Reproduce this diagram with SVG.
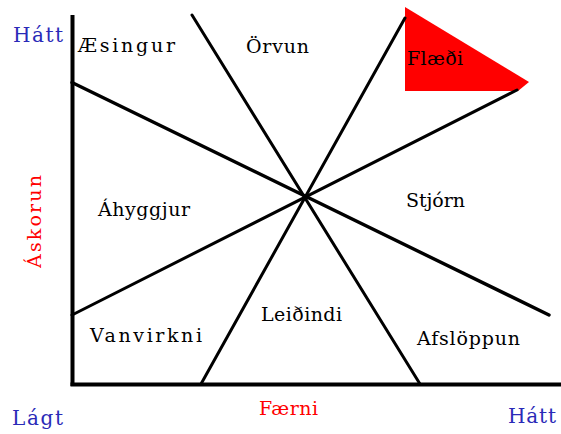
<svg xmlns="http://www.w3.org/2000/svg" width="561" height="434" viewBox="0 0 561 434">
<style>
.lbl{font-family:"DejaVu Serif","Liberation Serif",serif;font-size:19px;fill:#000}
.ax{font-family:"DejaVu Serif","Liberation Serif",serif;font-size:20px;fill:#2a2ab8}
.red{font-family:"DejaVu Serif","Liberation Serif",serif;font-size:19px;fill:#ff0000}
.ln{stroke:#000;stroke-width:3;fill:none;stroke-linecap:round}
.axis{stroke:#000;stroke-width:4;fill:none}
</style>
<rect width="561" height="434" fill="#fff"/>
<g id="flaedi-area">
<polygon points="405,7 529,82 518,91 405,91" fill="#ff0000"/>
</g>
<g id="connectors">
<line class="axis" x1="72.5" y1="15" x2="72.5" y2="386"/>
<line class="axis" x1="70.5" y1="384.5" x2="561" y2="384.5"/>
<line class="ln" x1="72" y1="82.5" x2="549" y2="315" style="stroke-width:3.4"/>
<line class="ln" x1="192" y1="15" x2="420" y2="384"/>
<line class="ln" x1="405" y1="18" x2="201" y2="384"/>
<line class="ln" x1="517" y1="90" x2="72" y2="315"/>
</g>
<g id="axis-labels">
<text class="ax" x="13" y="42" textLength="50" lengthAdjust="spacing">Hátt</text>
<text class="ax" x="12" y="425" textLength="51" lengthAdjust="spacing">Lágt</text>
<text class="ax" x="508" y="423" textLength="48" lengthAdjust="spacing">Hátt</text>
<text class="red" x="259" y="415" textLength="59" lengthAdjust="spacing">Færni</text>
<text class="red" transform="translate(41,268) rotate(-90)" x="0" y="0" textLength="93" lengthAdjust="spacing">Áskorun</text>
</g>
<g id="node-aesingur"><text class="lbl" x="78" y="52" textLength="97" lengthAdjust="spacing">Æsingur</text></g>
<g id="node-orvun"><text class="lbl" x="246" y="53" textLength="63" lengthAdjust="spacing">Örvun</text></g>
<g id="node-flaedi"><text class="lbl" x="407" y="65" textLength="56" lengthAdjust="spacing">Flæði</text></g>
<g id="node-ahyggjur"><text class="lbl" x="98" y="216" textLength="92" lengthAdjust="spacing">Áhyggjur</text></g>
<g id="node-stjorn"><text class="lbl" x="406" y="207" textLength="59" lengthAdjust="spacing">Stjórn</text></g>
<g id="node-vanvirkni"><text class="lbl" x="90" y="342" textLength="112" lengthAdjust="spacing">Vanvirkni</text></g>
<g id="node-leidindi"><text class="lbl" x="261" y="321" textLength="81" lengthAdjust="spacing">Leiðindi</text></g>
<g id="node-afsloppun"><text class="lbl" x="417" y="345" textLength="103" lengthAdjust="spacing">Afslöppun</text></g>
</svg>
